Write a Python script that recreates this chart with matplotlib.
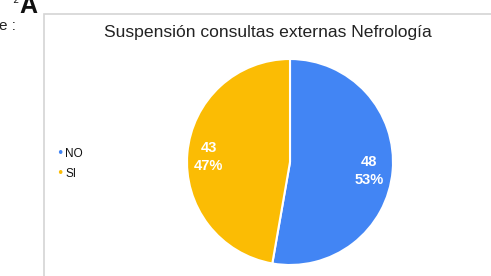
import matplotlib
matplotlib.use("Agg")
import matplotlib.pyplot as plt
from matplotlib.patches import Rectangle

categories = ["NO", "SI"]
values = [48, 43]
colors = ["#4285F4", "#FBBC04"]
title = "Suspensión consultas externas Nefrología"

W, H = 491, 276
fig = plt.figure(figsize=(W / 100, H / 100), dpi=100)

def fx(x):
    return x / W

def fy(y):
    return 1 - y / H

# marco del grafico (recortado)
fig.patches.append(Rectangle((fx(44), fy(300)), fx(500) - fx(44), fy(14) - fy(300),
                             transform=fig.transFigure, fill=False,
                             edgecolor="#d4d4d4", linewidth=1.2))

# texto recortado arriba a la izquierda
fig.text(fx(19), fy(13), "A", fontsize=18, fontweight="bold", color="#111111",
         ha="left", va="baseline", family="Liberation Sans")
fig.text(fx(-1), fy(30), "e :", fontsize=11, color="#222222", ha="left", va="baseline",
         family="Liberation Sans")
fig.text(fx(8), fy(3), "⁻2", fontsize=7, color="#222222", ha="left", va="baseline",
         family="DejaVu Sans")

fig.text(fx(268), fy(33), title, fontsize=12.6, color="#222222", ha="center", va="center",
         family="Liberation Sans")

# pastel
ax = fig.add_axes([fx(187), fy(265), (393 - 187) / W, (265 - 59) / H])
total = sum(values)
wedges, _ = ax.pie(values, colors=colors, startangle=90, counterclock=False, radius=1,
                   wedgeprops=dict(edgecolor="white", linewidth=1.5))
ax.set_xlim(-1, 1)
ax.set_ylim(-1, 1)
ax.set_aspect("equal")
ax.axis("off")

label_pos = [(0.77, -0.09), (-0.79, 0.05)]
for v, (lx, ly) in zip(values, label_pos):
    ax.text(lx, ly, f"{v}\n{v / total * 100:.0f}%", color="white", fontsize=10.5,
            fontweight="bold", ha="center", va="center", linespacing=1.35,
            family="Liberation Sans")

# leyenda
for i, (c, col) in enumerate(zip(categories, colors)):
    y = 154 + i * 20
    fig.text(fx(60), fy(y), "•", color=col, fontsize=9, ha="center", va="center")
    fig.text(fx(65), fy(y), c, color="#111111", fontsize=8.5, ha="left", va="center",
             family="Liberation Sans")

fig.savefig("out.png", dpi=100)
